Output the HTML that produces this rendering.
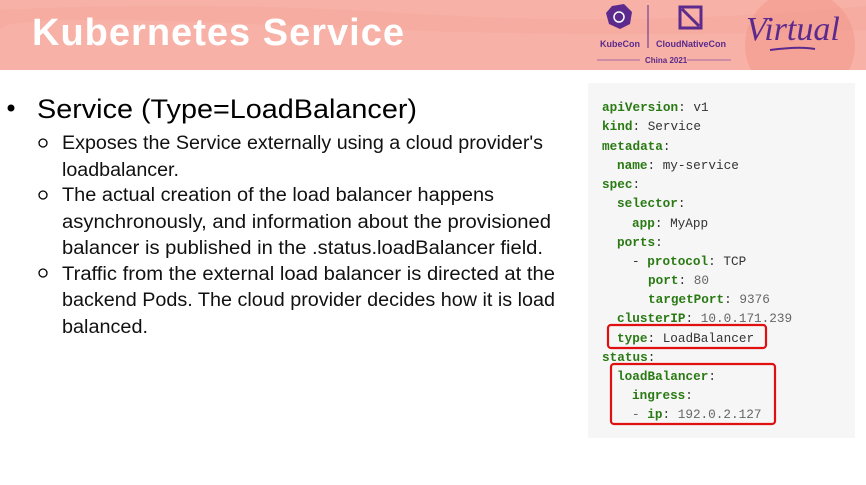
<!DOCTYPE html>
<html><head><meta charset="utf-8"><style>
html,body{margin:0;padding:0;background:#fff;width:866px;height:485px;overflow:hidden}
</style></head><body>
<svg width="866" height="485" xmlns="http://www.w3.org/2000/svg" font-family="Liberation Sans, sans-serif">
<rect x="0" y="0" width="866" height="70" fill="#f7b1a6"/>
<path d="M0 10 Q200 0 420 14 T866 6 L866 30 Q600 40 300 26 T0 30Z" fill="#f5a89c" opacity="0.5"/>
<circle cx="800" cy="45" r="55" fill="#f39a8d" opacity="0.6"/>
<rect x="0" y="70" width="866" height="415" fill="#fff"/>
<text x="32" y="45" font-size="38" font-weight="bold" fill="#fff" textLength="372">Kubernetes Service</text>
<path d="M612 6 L624 4 L632 12 L630 24 L620 29 L609 24 L606 13Z" fill="#5b2a8c"/>
<circle cx="619" cy="17" r="5" fill="none" stroke="#fff" stroke-width="1.5"/>
<text x="600" y="47" font-size="9" font-weight="bold" fill="#5b2a8c">KubeCon</text>
<line x1="648" y1="5" x2="648" y2="48" stroke="#5b2a8c" stroke-width="1"/>
<rect x="680" y="7" width="21" height="21" fill="none" stroke="#5b2a8c" stroke-width="3"/>
<path d="M682 9 L699 26" stroke="#5b2a8c" stroke-width="3"/>
<text x="656" y="47" font-size="9" font-weight="bold" fill="#5b2a8c">CloudNativeCon</text>
<line x1="597" y1="60" x2="640" y2="60" stroke="#8a4fa8" stroke-width="0.8"/>
<text x="645" y="63" font-size="8" font-weight="bold" fill="#5b2a8c">China 2021</text>
<line x1="687" y1="60" x2="731" y2="60" stroke="#8a4fa8" stroke-width="0.8"/>
<text x="746" y="40" font-size="34" font-style="italic" fill="#5b2a8c" font-family="Liberation Serif, serif">Virtual</text>
<path d="M770 50 Q800 46 815 49" stroke="#5b2a8c" stroke-width="2" fill="none"/>
<circle cx="11" cy="108" r="3.5" fill="#000"/>
<text x="37" y="118" font-size="27" fill="#000" textLength="380" lengthAdjust="spacingAndGlyphs">Service (Type=LoadBalancer)</text>
<g font-size="19" fill="#111">
<circle cx="43" cy="143" r="4" fill="none" stroke="#000" stroke-width="1.3"/>
<text x="62" y="149" textLength="481" lengthAdjust="spacingAndGlyphs">Exposes the Service externally using a cloud provider's</text>
<text x="62" y="176" textLength="117" lengthAdjust="spacingAndGlyphs">loadbalancer.</text>
<circle cx="43" cy="195" r="4" fill="none" stroke="#000" stroke-width="1.3"/>
<text x="62" y="201" textLength="432" lengthAdjust="spacingAndGlyphs">The actual creation of the load balancer happens</text>
<text x="62" y="228" textLength="489" lengthAdjust="spacingAndGlyphs">asynchronously, and information about the provisioned</text>
<text x="62" y="254" textLength="481" lengthAdjust="spacingAndGlyphs">balancer is published in the  .status.loadBalancer field.</text>
<circle cx="43" cy="273" r="4" fill="none" stroke="#000" stroke-width="1.3"/>
<text x="62" y="280" textLength="493" lengthAdjust="spacingAndGlyphs">Traffic from the external load balancer is directed at the</text>
<text x="62" y="306" textLength="493" lengthAdjust="spacingAndGlyphs">backend Pods. The cloud provider decides how it is load</text>
<text x="62" y="333" textLength="86" lengthAdjust="spacingAndGlyphs">balanced.</text>
</g>
<rect x="588" y="83" width="267" height="355" fill="#f6f6f6"/>
<g font-family="Liberation Mono, monospace" font-size="12.7" fill="#333">
<text x="602" y="111"><tspan fill="#2a7a14" font-weight="bold">apiVersion</tspan>: v1</text>
<text x="602" y="130"><tspan fill="#2a7a14" font-weight="bold">kind</tspan>: Service</text>
<text x="602" y="150"><tspan fill="#2a7a14" font-weight="bold">metadata</tspan>:</text>
<text x="617" y="169"><tspan fill="#2a7a14" font-weight="bold">name</tspan>: my-service</text>
<text x="602" y="188"><tspan fill="#2a7a14" font-weight="bold">spec</tspan>:</text>
<text x="617" y="207"><tspan fill="#2a7a14" font-weight="bold">selector</tspan>:</text>
<text x="632" y="227"><tspan fill="#2a7a14" font-weight="bold">app</tspan>: MyApp</text>
<text x="617" y="246"><tspan fill="#2a7a14" font-weight="bold">ports</tspan>:</text>
<text x="632" y="265">- <tspan fill="#2a7a14" font-weight="bold">protocol</tspan>: TCP</text>
<text x="648" y="284"><tspan fill="#2a7a14" font-weight="bold">port</tspan>: <tspan fill="#666">80</tspan></text>
<text x="648" y="303"><tspan fill="#2a7a14" font-weight="bold">targetPort</tspan>: <tspan fill="#666">9376</tspan></text>
<text x="617" y="322"><tspan fill="#2a7a14" font-weight="bold">clusterIP</tspan>: <tspan fill="#666">10.0.171.239</tspan></text>
<text x="617" y="342"><tspan fill="#2a7a14" font-weight="bold">type</tspan>: LoadBalancer</text>
<text x="602" y="361"><tspan fill="#2a7a14" font-weight="bold">status</tspan>:</text>
<text x="617" y="380"><tspan fill="#2a7a14" font-weight="bold">loadBalancer</tspan>:</text>
<text x="632" y="399"><tspan fill="#2a7a14" font-weight="bold">ingress</tspan>:</text>
<text x="632" y="418"><tspan fill="#666">-</tspan> <tspan fill="#2a7a14" font-weight="bold">ip</tspan>: <tspan fill="#666">192.0.2.127</tspan></text>
</g>
<rect x="608" y="325" width="158" height="23" rx="3" fill="none" stroke="#e01010" stroke-width="2.2"/>
<rect x="611" y="364" width="164" height="60" rx="3" fill="none" stroke="#e01010" stroke-width="2.2"/>
</svg>
</body></html>
